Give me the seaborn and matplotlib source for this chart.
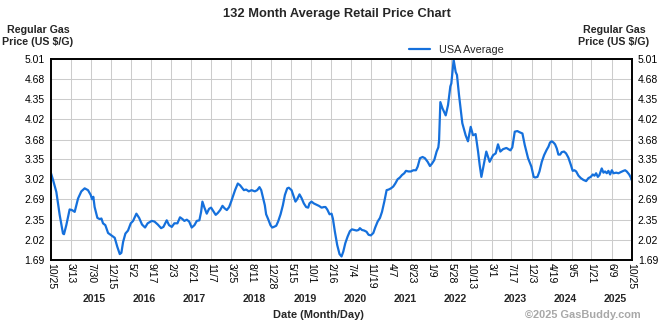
import matplotlib
matplotlib.use("Agg")
import matplotlib.pyplot as plt
import matplotlib.dates as mdates
import numpy as np
import pandas as pd
import seaborn as sns

# ---------------- data ----------------
dates = [
    "2014-10-25", "2014-11-08", "2014-12-01", "2014-12-24", "2015-01-16", "2015-01-23",
    "2015-02-08", "2015-03-03", "2015-03-19", "2015-04-07", "2015-04-30", "2015-05-23",
    "2015-06-15", "2015-07-08", "2015-07-27", "2015-08-05", "2015-08-14", "2015-08-23",
    "2015-09-11", "2015-09-27", "2015-10-09", "2015-10-20", "2015-11-05", "2015-11-24",
    "2015-12-17", "2016-01-09", "2016-01-27", "2016-02-13", "2016-02-24", "2016-03-07",
    "2016-03-23", "2016-04-10", "2016-04-29", "2016-05-15", "2016-06-07", "2016-06-26",
    "2016-07-16", "2016-08-06", "2016-08-24", "2016-09-21", "2016-10-10", "2016-11-02",
    "2016-11-25", "2016-12-11", "2017-01-03", "2017-01-19", "2017-02-07", "2017-02-25",
    "2017-03-18", "2017-04-05", "2017-04-22", "2017-05-05", "2017-05-22", "2017-06-07",
    "2017-06-25", "2017-07-14", "2017-07-30", "2017-08-17", "2017-08-29", "2017-09-07",
    "2017-09-21", "2017-10-07", "2017-10-23", "2017-11-06", "2017-11-22", "2017-12-08",
    "2017-12-22", "2018-01-08", "2018-01-24", "2018-02-07", "2018-02-23", "2018-03-11",
    "2018-03-25", "2018-04-10", "2018-04-21", "2018-05-10", "2018-05-26", "2018-06-21",
    "2018-07-07", "2018-07-25", "2018-08-13", "2018-09-05", "2018-09-21", "2018-10-07",
    "2018-10-19", "2018-10-30", "2018-11-13", "2018-11-22", "2018-12-06", "2018-12-22",
    "2019-01-03", "2019-01-14", "2019-01-31", "2019-02-13", "2019-03-02", "2019-03-18",
    "2019-04-01", "2019-04-17", "2019-04-28", "2019-05-17", "2019-06-02", "2019-06-13",
    "2019-06-25", "2019-07-11", "2019-07-25", "2019-08-10", "2019-08-26", "2019-09-09",
    "2019-09-18", "2019-10-02", "2019-10-18", "2019-11-04", "2019-11-22", "2019-12-11",
    "2019-12-27", "2020-01-07", "2020-01-19", "2020-02-04", "2020-02-18", "2020-02-27",
    "2020-03-12", "2020-03-28", "2020-04-13", "2020-04-27", "2020-05-09", "2020-05-23",
    "2020-06-08", "2020-06-24", "2020-07-08", "2020-07-24", "2020-08-09", "2020-08-23",
    "2020-09-01", "2020-09-15", "2020-10-01", "2020-10-17", "2020-10-31", "2020-11-16",
    "2020-12-03", "2020-12-16", "2021-01-02", "2021-01-18", "2021-02-01", "2021-02-17",
    "2021-03-05", "2021-03-19", "2021-04-04", "2021-04-20", "2021-05-04", "2021-05-20",
    "2021-06-05", "2021-06-19", "2021-07-05", "2021-07-17", "2021-08-04", "2021-08-20",
    "2021-09-06", "2021-09-24", "2021-10-06", "2021-10-22", "2021-11-09", "2021-11-25",
    "2021-12-14", "2021-12-30", "2022-01-13", "2022-01-29", "2022-02-14", "2022-02-26",
    "2022-03-03", "2022-03-12", "2022-03-26", "2022-04-18", "2022-05-04", "2022-05-20",
    "2022-05-27", "2022-06-12", "2022-06-26", "2022-07-05", "2022-07-19", "2022-08-11",
    "2022-09-03", "2022-09-19", "2022-10-08", "2022-10-24", "2022-11-11", "2022-11-28",
    "2022-12-09", "2022-12-21", "2023-01-06", "2023-01-24", "2023-02-16", "2023-03-12",
    "2023-03-30", "2023-04-15", "2023-05-01", "2023-05-20", "2023-06-12", "2023-07-10",
    "2023-07-23", "2023-08-09", "2023-08-27", "2023-09-12", "2023-10-01", "2023-10-17",
    "2023-11-09", "2023-12-02", "2023-12-18", "2023-12-28", "2024-01-13", "2024-01-27",
    "2024-02-12", "2024-02-28", "2024-03-17", "2024-03-29", "2024-04-09", "2024-04-21",
    "2024-05-03", "2024-05-14", "2024-05-26", "2024-06-06", "2024-06-18", "2024-06-29",
    "2024-07-15", "2024-07-29", "2024-08-14", "2024-08-31", "2024-09-13", "2024-09-25",
    "2024-10-07", "2024-10-23", "2024-11-08", "2024-11-26", "2024-12-15", "2024-12-31",
    "2025-01-16", "2025-01-30", "2025-02-11", "2025-02-22", "2025-03-06", "2025-03-17",
    "2025-04-02", "2025-04-14", "2025-04-25", "2025-05-07", "2025-05-18", "2025-05-30",
    "2025-06-11", "2025-06-22", "2025-07-11", "2025-07-27", "2025-08-12", "2025-08-30",
    "2025-09-11", "2025-09-22", "2025-10-09", "2025-10-20", "2025-10-25",
]
prices = [
    3.12, 3.01, 2.81, 2.43, 2.12, 2.11,
    2.26, 2.52, 2.51, 2.48, 2.70, 2.82,
    2.87, 2.84, 2.76, 2.69, 2.73, 2.56,
    2.38, 2.36, 2.37, 2.29, 2.26, 2.13,
    2.09, 2.05, 1.90, 1.78, 1.80, 1.98,
    2.12, 2.17, 2.29, 2.33, 2.45, 2.38,
    2.27, 2.22, 2.29, 2.33, 2.32, 2.27,
    2.21, 2.23, 2.34, 2.26, 2.23, 2.29,
    2.29, 2.39, 2.36, 2.33, 2.35, 2.32,
    2.22, 2.26, 2.33, 2.34, 2.48, 2.65,
    2.55, 2.45, 2.53, 2.55, 2.49, 2.43,
    2.46, 2.51, 2.58, 2.54, 2.51, 2.56,
    2.65, 2.76, 2.84, 2.95, 2.92, 2.84,
    2.85, 2.82, 2.84, 2.82, 2.84, 2.89,
    2.84, 2.73, 2.59, 2.44, 2.36, 2.26,
    2.22, 2.23, 2.25, 2.32, 2.44, 2.59,
    2.76, 2.87, 2.88, 2.84, 2.73, 2.65,
    2.69, 2.77, 2.71, 2.62, 2.56, 2.55,
    2.62, 2.65, 2.62, 2.60, 2.58, 2.55,
    2.56, 2.56, 2.52, 2.44, 2.45, 2.37,
    2.15, 1.93, 1.78, 1.74, 1.82, 1.96,
    2.07, 2.16, 2.19, 2.18, 2.17, 2.18,
    2.21, 2.18, 2.17, 2.15, 2.10, 2.09,
    2.13, 2.22, 2.32, 2.38, 2.48, 2.65,
    2.84, 2.85, 2.87, 2.90, 2.95, 3.02,
    3.05, 3.09, 3.12, 3.16, 3.15, 3.15,
    3.17, 3.17, 3.23, 3.37, 3.39, 3.37,
    3.31, 3.24, 3.28, 3.34, 3.48, 3.55,
    3.66, 4.30, 4.20, 4.08, 4.25, 4.56,
    4.61, 5.00, 4.80, 4.75, 4.42, 3.95,
    3.75, 3.65, 3.89, 3.75, 3.77, 3.48,
    3.26, 3.06, 3.26, 3.48, 3.31, 3.42,
    3.45, 3.60, 3.48, 3.52, 3.54, 3.50,
    3.55, 3.81, 3.82, 3.80, 3.78, 3.59,
    3.37, 3.23, 3.06, 3.05, 3.06, 3.15,
    3.31, 3.42, 3.51, 3.56, 3.63, 3.65,
    3.63, 3.60, 3.53, 3.43, 3.43, 3.47,
    3.48, 3.45, 3.38, 3.26, 3.16, 3.17,
    3.15, 3.08, 3.04, 3.01, 2.99, 3.04,
    3.06, 3.10, 3.08, 3.12, 3.06, 3.09,
    3.20, 3.13, 3.15, 3.12, 3.16, 3.10,
    3.17, 3.12, 3.13, 3.12, 3.14, 3.16,
    3.17, 3.15, 3.10, 3.05, 3.01,
]
tick_dates = [
    "2014-10-25", "2015-03-13", "2015-07-30", "2015-12-15", "2016-05-02", "2016-09-17",
    "2017-02-03", "2017-06-21", "2017-11-07", "2018-03-25", "2018-08-11", "2018-12-28",
    "2019-05-15", "2019-10-01", "2020-02-16", "2020-07-04", "2020-11-19", "2021-04-07",
    "2021-08-23", "2022-01-09", "2022-05-28", "2022-10-13", "2023-03-01", "2023-07-17",
    "2023-12-03", "2024-04-19", "2024-09-05", "2025-01-21", "2025-06-09", "2025-10-25",
]
y_ticks = [1.69, 2.02, 2.35, 2.69, 3.02, 3.35, 3.68, 4.02, 4.35, 4.68, 5.01]
years = [2015, 2016, 2017, 2018, 2019, 2020, 2021, 2022, 2023, 2024, 2025]

title = "132 Month Average Retail Price Chart"
y_title = "Regular Gas\nPrice (US $/G)"
x_title = "Date (Month/Day)"
credit = "\u00a92025 GasBuddy.com"
series_name = "USA Average"

# ---------------- style ----------------
sns.set_theme(style="white")
plt.rcParams["font.family"] = ["Liberation Sans", "DejaVu Sans"]

W, H = 670, 325
fig = plt.figure(figsize=(W / 100, H / 100), dpi=100)
fig.patch.set_facecolor("white")
L, R, T, B = 51.0, 631.5, 59.3, 259.5
ax = fig.add_axes([L / W, 1 - B / H, (R - L) / W, (B - T) / H])

df = pd.DataFrame({"date": pd.to_datetime(dates), "price": prices})
line_color = "#1570dc"
sns.lineplot(data=df, x="date", y="price", ax=ax, color=line_color,
             linewidth=1.6, label=series_name, legend=False)

ticks = pd.to_datetime(tick_dates)
ax.set_xlim(ticks[0], ticks[-1])
ax.set_ylim(y_ticks[0], y_ticks[-1])
ax.set_xticks(ticks)
ax.set_xticklabels([f"{d.month}/{d.day}" for d in ticks], rotation=-90,
                   ha="center", va="top", fontsize=7.5)
ax.set_yticks(y_ticks)
ax.set_yticklabels([f"{v:.2f}" for v in y_ticks], fontsize=7.5)
ax.tick_params(axis="both", length=0, colors="black")
ax.tick_params(axis="x", pad=2.5)
ax.tick_params(axis="y", pad=4.5, labelright=True)
ax.set_xlabel("")
ax.set_ylabel("")

ax.grid(True, color="#cccccc", linewidth=0.75)
ax.set_axisbelow(True)
for s in ax.spines.values():
    s.set_color("black")
    s.set_linewidth(1.4)
    s.set_visible(True)

# year labels under the date ticks
tnum = mdates.date2num(ticks)
for yr in years:
    pos = [n for d, n in zip(ticks, tnum) if d.year == yr]
    ax.annotate(str(yr), xy=(np.mean(pos), 0), xycoords=("data", "axes fraction"),
                xytext=(2.5, -(299 - B) * 0.72), textcoords="offset points",
                ha="center", va="center", fontsize=7.6, fontweight="bold")

# texts
fig.text(336.5 / W, 1 - 14 / H, title, ha="center", va="center",
         fontsize=9.3, fontweight="bold")
fig.text(38 / W, 1 - 36 / H, y_title, ha="center", va="center",
         fontsize=7.7, fontweight="bold", linespacing=1.15)
fig.text(614 / W, 1 - 36 / H, y_title, ha="center", va="center",
         fontsize=7.7, fontweight="bold", linespacing=1.15)
fig.text(318 / W, 1 - 315 / H, x_title, ha="center", va="center",
         fontsize=7.9, fontweight="bold")
fig.text(583 / W, 1 - 315 / H, credit, ha="center", va="center",
         fontsize=7.9, fontweight="bold", color="#a8a8a8")

handles, labels = ax.get_legend_handles_labels()
fig.legend(handles, labels, loc="center left", bbox_to_anchor=(409 / W, 1 - 50 / H),
           frameon=False, fontsize=7.8, handlelength=1.9, handletextpad=0.9,
           borderpad=0, borderaxespad=0)

fig.savefig("out.png", dpi=100, facecolor="white")
